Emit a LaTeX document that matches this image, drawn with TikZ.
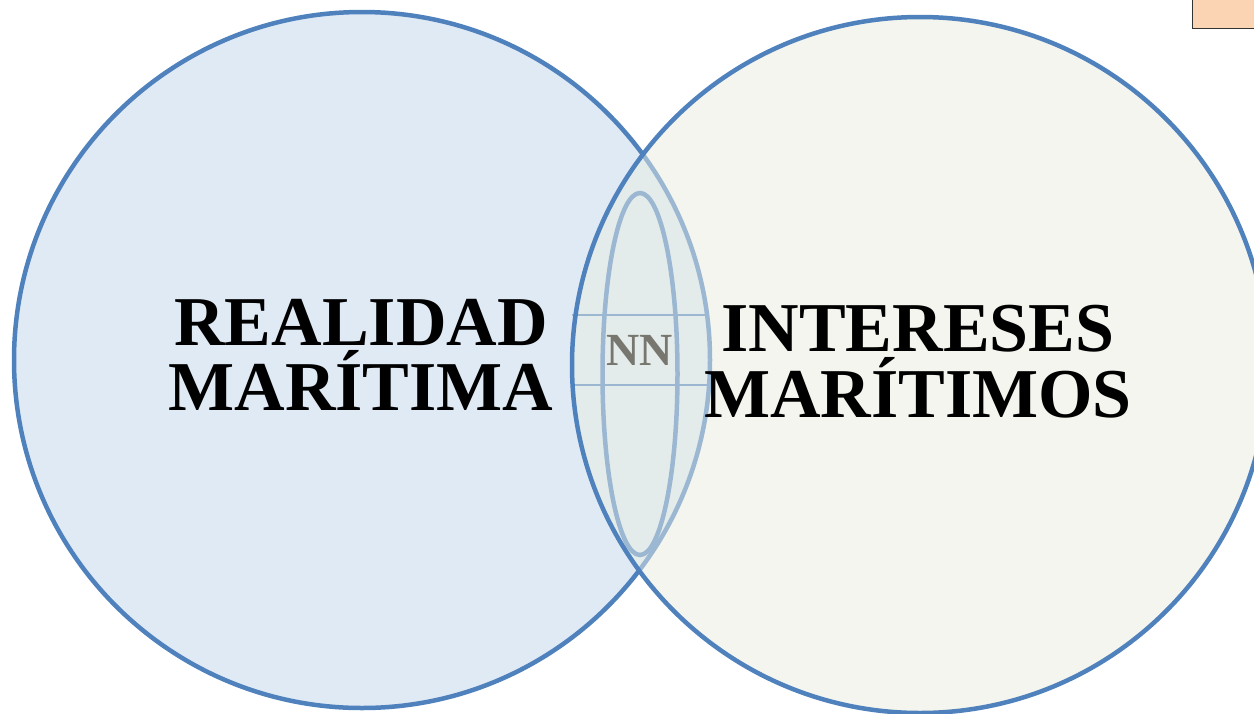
\documentclass[tikz,border=0pt]{standalone}
\usepackage{fontspec}
\setmainfont{Liberation Serif}
\definecolor{cblue}{HTML}{4F81BD}
\definecolor{lblue}{HTML}{9BB7D2}
\definecolor{leftfill}{HTML}{E0EAF5}
\definecolor{rightfill}{HTML}{F4F5EE}
\definecolor{lensfill}{HTML}{E3ECEA}
\definecolor{nngray}{HTML}{777770}
\definecolor{orangefill}{HTML}{FBD4B4}
\tikzset{
  bigtext/.style={font=\fontsize{70}{70}\selectfont\bfseries, inner sep=0pt, anchor=base},
  ring/.style={line width=4.5pt, draw=cblue},
}
\begin{document}
\begin{tikzpicture}[x=1pt,y=-1pt]
\useasboundingbox (0,0) rectangle (1254,713);
% circle fills
\fill[leftfill] (362,360) circle (348);
\fill[rightfill] (920,365) circle (348);
% lens
\begin{scope}
  \clip (362,360) circle (348);
  \fill[lensfill] (920,365) circle (348);
  \draw[lblue, line width=2pt] (572,315) -- (710,315);
  \draw[lblue, line width=2pt] (572,385) -- (710,385);
  \draw[lblue, line width=4.5pt] (640,374) ellipse (37.5 and 181);
\end{scope}
% left circle outline: dark outside lens, light inside
\begin{scope}[even odd rule]
  \clip (-10,-10) rectangle (1264,723) (920,365) circle (348);
  \draw[ring] (362,360) circle (348);
\end{scope}
\begin{scope}
  \clip (920,365) circle (348);
  \draw[lblue, line width=4.5pt] (362,360) circle (348);
\end{scope}
\draw[ring] (920,365) circle (348);
% orange box
\draw[draw=black!80, fill=orangefill, line width=1.5pt] (1192.5,-5) rectangle (1260,28.5);
\node[bigtext] (l1) at (361,345) {REALIDAD};
\node[bigtext] (l2) at (361,410) {MARÍTIMA};
\node[bigtext] (r1) at (918,351) {INTERESES};
\node[bigtext] (r2) at (918,417) {MARÍTIMOS};
\node[font=\fontsize{46}{46}\selectfont\bfseries, text=nngray, inner sep=0pt, anchor=base] (nn) at (640,365) {NN};
\end{tikzpicture}
\end{document}
